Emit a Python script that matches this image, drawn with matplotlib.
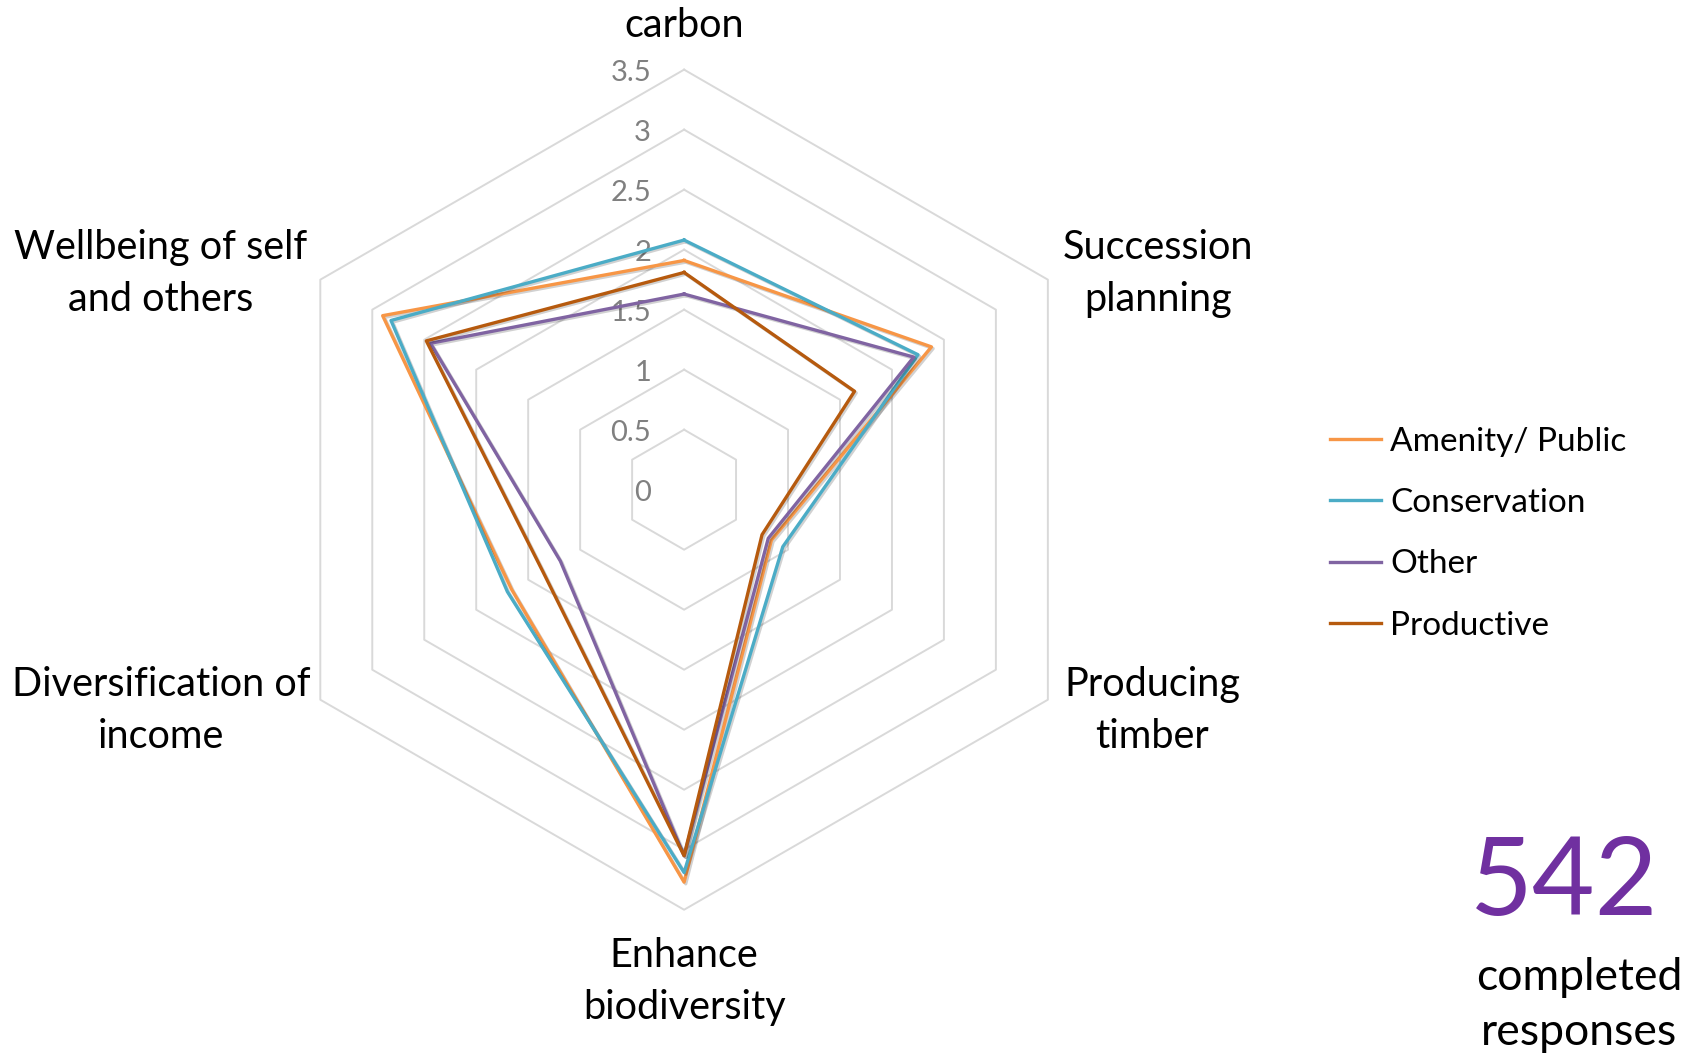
import numpy as np
import matplotlib.pyplot as plt
import matplotlib.patheffects as pe

categories = ["carbon", "Succession\nplanning", "Producing\ntimber",
              "Enhance\nbiodiversity", "Diversification of\nincome",
              "Wellbeing of self\nand others"]
amenity = [1.91, 2.38, 0.84, 3.27, 1.66, 2.90]
conservation = [2.08, 2.25, 0.95, 3.19, 1.70, 2.82]
other = [1.63, 2.21, 0.81, 3.05, 1.19, 2.44]
productive = [1.81, 1.64, 0.75, 3.05, 1.36, 2.48]
ticks = [0, 0.5, 1, 1.5, 2, 2.5, 3, 3.5]
tick_labels = ["0", "0.5", "1", "1.5", "2", "2.5", "3", "3.5"]
responses = 542

plt.rcParams['font.family'] = ['Lato', 'DejaVu Sans']

series = [("Amenity/ Public", amenity, "#F79646"),
          ("Conservation", conservation, "#4BACC6"),
          ("Other", other, "#8064A2"),
          ("Productive", productive, "#B65A0E")]

# spokes go clockwise starting at the top
ang = np.deg2rad(90 - 60 * np.arange(len(categories)))
cx, cy = np.cos(ang), np.sin(ang)

fig = plt.figure(figsize=(16.91, 10.55), dpi=100)
ax = fig.add_axes([0, 0, 1, 1])
ax.set_xlim(-5.70, 8.39)
ax.set_ylim(-4.71, 4.08)
ax.set_aspect('equal')
ax.axis('off')

# hexagonal grid
for t in ticks[1:]:
    ax.plot(np.append(cx, cx[0]) * t, np.append(cy, cy[0]) * t,
            color="#D9D9D9", lw=1.4, zorder=1)

for t, lab in zip(ticks, tick_labels):
    ax.text(-0.275, t - 0.025, lab, ha='right', va='center', fontsize=21,
            color="#808080", zorder=2)

shadow = [pe.SimpleLineShadow(offset=(1.2, -1.2), alpha=0.18, shadow_color='black'),
          pe.Normal()]
for name, vals, col in series:
    v = np.array(vals)
    ax.plot(np.append(cx * v, cx[0] * v[0]), np.append(cy * v, cy[0] * v[0]),
            color=col, lw=2.4, label=name, zorder=3, path_effects=shadow)

# category labels around the outside
label_pos = [(0.0, 3.87), (3.95, 1.80), (3.90, -1.84),
             (0.0, -4.10), (-4.36, -1.84), (-4.36, 1.80)]
for (lx, ly), cat in zip(label_pos, categories):
    ax.text(lx, ly, cat, ha='center', va='center', fontsize=28.5,
            linespacing=1.5, color='black')

leg = ax.legend(loc='center left', bbox_to_anchor=(0.769, 0.494),
                frameon=False, fontsize=24, handlelength=1.53,
                handletextpad=0.26, labelspacing=0.94)
for h in leg.get_lines():
    h.set_linewidth(2.4)
    h.set_path_effects([])

fig.text(0.925, 0.162, str(responses), ha='center', va='center',
         fontsize=78, color="#7030A0")
fig.text(0.934, 0.047, "completed\nresponses", ha='center', va='center',
         fontsize=32, linespacing=1.42, color='black')

plt.savefig('out.png', dpi=100)
